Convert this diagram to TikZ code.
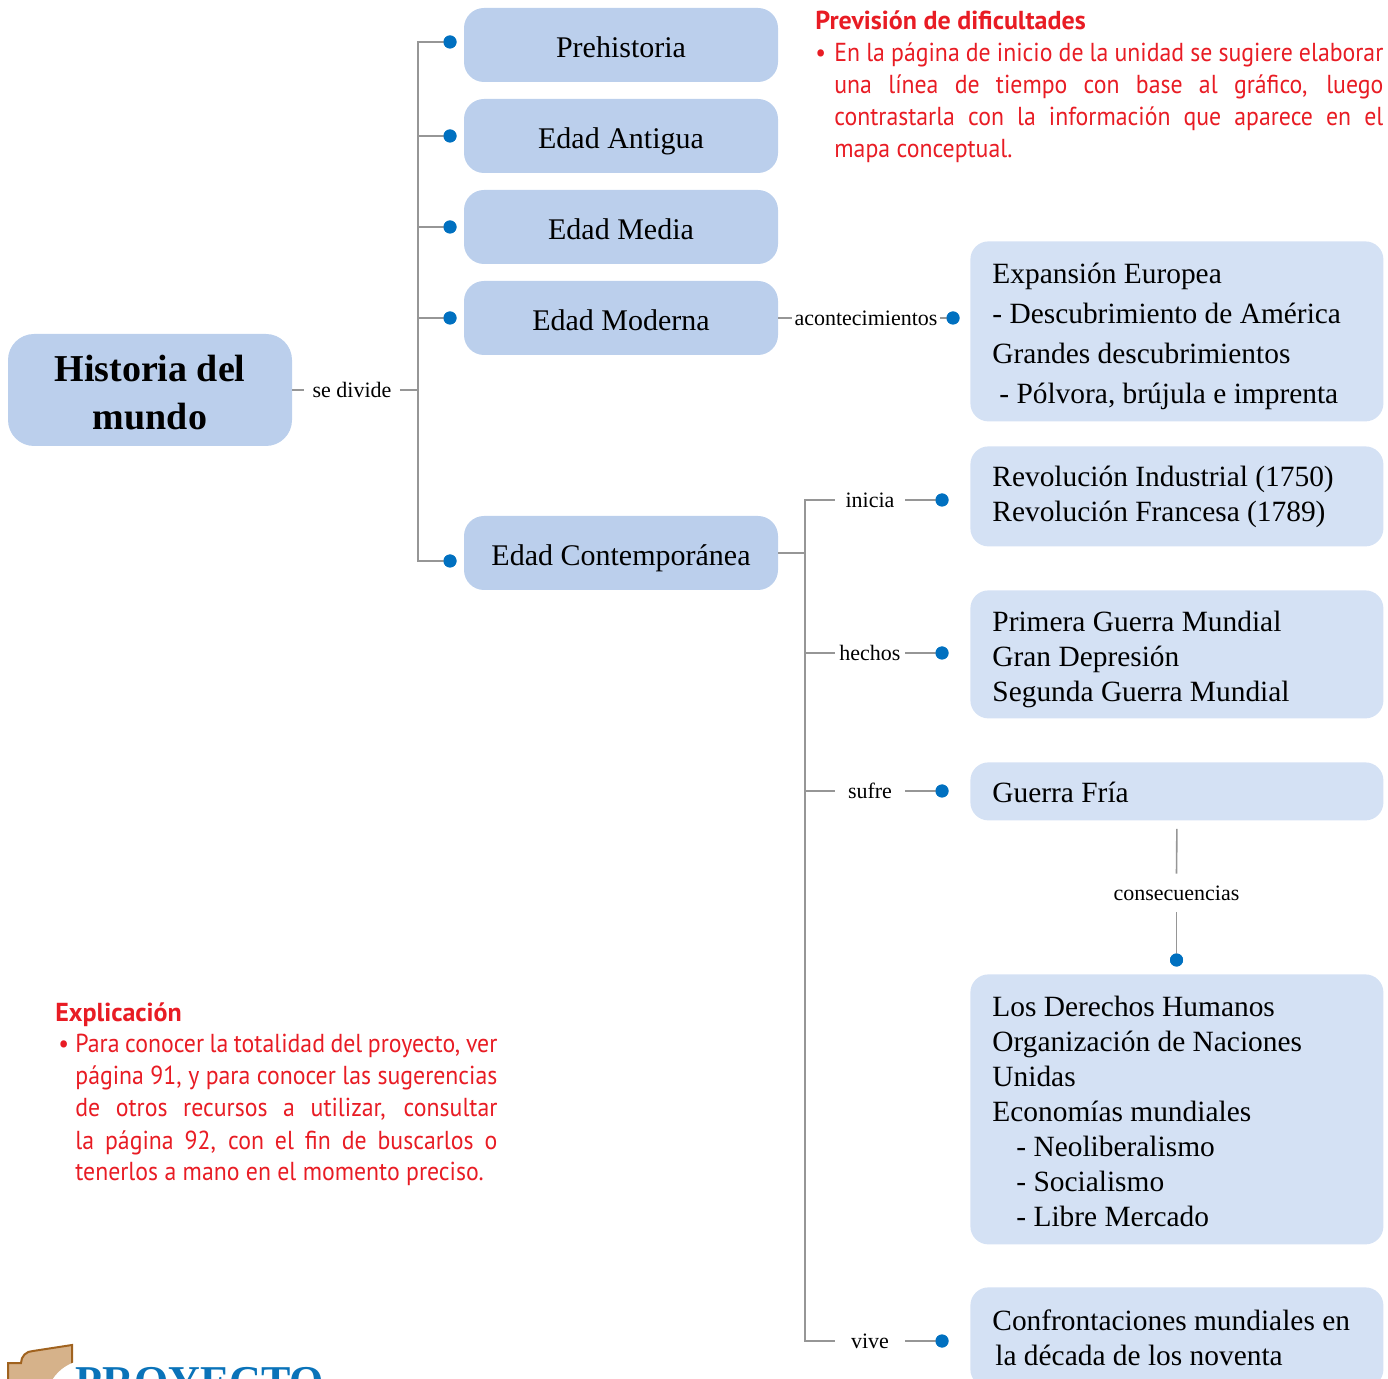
\documentclass[tikz,border=0pt]{standalone}
\usepackage{fontspec}
\setmainfont{Liberation Serif}
\newfontfamily\redfont[FakeStretch=0.915]{PT Sans}
\newfontfamily\redhead[FakeStretch=1.0]{PT Sans}
\definecolor{boxA}{RGB}{187,207,236}
\definecolor{boxB}{RGB}{212,225,244}
\definecolor{dotblue}{RGB}{0,112,192}
\definecolor{linegray}{RGB}{150,150,150}
\definecolor{redtxt}{RGB}{232,28,36}
\definecolor{tanfill}{RGB}{214,178,138}
\definecolor{brownline}{RGB}{160,98,30}
\definecolor{proyblue}{RGB}{10,115,185}
\tikzset{
  leftbox/.style={fill=boxA, rounded corners=10pt, minimum width=157pt, minimum height=37pt, inner sep=0pt, text height=14pt, text depth=1.5pt, font=\fontsize{15}{18}\selectfont},
  rightbox/.style={fill=boxB, rounded corners=9pt, anchor=north west, minimum width=206.5pt, inner sep=0pt},
  righttext/.style={anchor=west, inner sep=0pt, align=left, font=\fontsize{14.7}{17.5}\selectfont},
  dotnode/.style={circle, fill=dotblue, inner sep=0pt, minimum size=6.5pt},
  conn/.style={draw=linegray, line width=0.8pt},
  lbl/.style={font=\fontsize{11}{12}\selectfont, inner sep=0pt},
  lblB/.style={lbl, minimum width=35pt},
  redblock/.style={anchor=base west, inner sep=0pt, text=redtxt}
}
\begin{document}
\begin{tikzpicture}[x=0.5pt,y=-0.5pt]
\useasboundingbox (0,0) rectangle (1388,1379);
\clip (0,0) rectangle (1388,1379);

% ---- left column boxes
\node[leftbox, minimum width=142pt, minimum height=56pt, rounded corners=13pt, align=center, text height=, text depth=, font=\fontsize{19}{24}\selectfont\bfseries] (hist) at (150,390) {};
\node[align=center, inner sep=0pt, font=\fontsize{19}{24}\selectfont\bfseries] (histtext) at (150,393) {Historia del\\mundo};
\node[leftbox] (pre) at (621,45) {Prehistoria};
\node[leftbox] (ant) at (621,136) {Edad Antigua};
\node[leftbox] (med) at (621,227) {Edad Media};
\node[leftbox] (mod) at (621,318) {Edad Moderna};
\node[leftbox] (cont) at (621,553) {Edad Contemporánea};

\node[dotnode] (d1) at (450,42) {};
\node[dotnode] (d2) at (450,136) {};
\node[dotnode] (d3) at (450,227) {};
\node[dotnode] (d4) at (450,318) {};
\node[dotnode] (d6) at (450,561) {};

\node[lbl, inner xsep=4pt] (sediv) at (352,390) {se divide};
\coordinate (tA) at (418,390);
\draw[conn] (hist.east) -- (sediv.west);
\draw[conn] (sediv.east) -- (tA);
\draw[conn] (d1.center) -- (d1.center -| tA) -- (d6.center -| tA) -- (d6.center);
\draw[conn] (d2.center -| tA) -- (d2.center);
\draw[conn] (d3.center -| tA) -- (d3.center);
\draw[conn] (d4.center -| tA) -- (d4.center);
\foreach \d in {d1,d2,d3,d4,d6} \node[dotnode] at (\d) {};

% ---- right boxes
\node[rightbox, minimum height=90pt] (exp) at (970,241) {};
\node[righttext, font=\fontsize{14.7}{20}\selectfont] (expt) at (992,336.5) {Expansión Europea\\- Descubrimiento de América\\Grandes descubrimientos\\\hspace*{3.5pt}- Pólvora, brújula e imprenta};
\node[rightbox, minimum height=50pt] (rev) at (970,446) {};
\node[righttext] (revt) at (992,497) {Revolución Industrial (1750)\\Revolución Francesa (1789)};
\node[rightbox, minimum height=64pt] (pgm) at (970,590) {};
\node[righttext] (pgmt) at (992,659) {Primera Guerra Mundial\\Gran Depresión\\Segunda Guerra Mundial};
\node[rightbox, minimum height=29pt] (gf) at (970,762) {};
\node[righttext] (gft) at (992,792) {Guerra Fría};
\node[rightbox, minimum height=135pt] (der) at (970,974) {};
\node[righttext] (dert) at (992,1111) {Los Derechos Humanos\\Organización de Naciones\\Unidas\\Economías mundiales\\\hspace*{12pt}- Neoliberalismo\\\hspace*{12pt}- Socialismo\\\hspace*{12pt}- Libre Mercado};
\node[rightbox, minimum height=50pt] (conf) at (970,1287) {};
\node[righttext] (conft) at (992,1338) {Confrontaciones mundiales en\\\hspace*{1.5pt}la década de los noventa};

% ---- acontecimientos
\node[lbl, inner xsep=1pt] (acon) at (866,318) {acontecimientos};
\node[dotnode] (dA) at (953,318) {};
\draw[conn] (mod.east) -- (acon.west);
\draw[conn] (acon.east) -- (dA.center);
\node[dotnode] at (dA) {};

% ---- contemporanea branches
\coordinate (tB) at (805,553);
\node[lblB] (ini) at (870,500) {inicia};
\node[lblB] (hec) at (870,653) {hechos};
\node[lblB] (suf) at (870,791) {sufre};
\node[lblB] (viv) at (870,1341) {vive};
\node[dotnode] (dI) at (942,500) {};
\node[dotnode] (dH) at (942,653) {};
\node[dotnode] (dS) at (942,791) {};
\node[dotnode] (dV) at (942,1341) {};
\draw[conn] (cont.east) -- (cont.east -| tB);
\draw[conn] (ini.west) -- (ini.west -| tB) -- (viv.west -| tB) -- (viv.west);
\draw[conn] (hec.west -| tB) -- (hec.west);
\draw[conn] (suf.west -| tB) -- (suf.west);
\draw[conn] (ini.east) -- (dI.center);
\draw[conn] (hec.east) -- (dH.center);
\draw[conn] (suf.east) -- (dS.center);
\draw[conn] (viv.east) -- (dV.center);
\foreach \d in {dI,dH,dS,dV} \node[dotnode] at (\d) {};

% ---- consecuencias
\node[lbl, minimum height=19pt] (cons) at (1176.5,893) {consecuencias};
\node[dotnode] (dC) at (1176.5,960) {};
\draw[conn] ([yshift=-4pt]gf.south) -- (cons.north);
\draw[conn] (cons.south) -- (dC.center);
\node[dotnode] at (dC) {};

% ---- red notes
\node[redblock] (prev) at (815,30) {\begin{minipage}[t]{284pt}\redfont\fontsize{13}{16}\selectfont\setlength{\parindent}{0pt}%
{\redhead\bfseries Previsión de dificultades}\par
\leftskip=9.5pt\hspace*{-9.5pt}\makebox[9.5pt][l]{\textbullet}En la página de inicio de la unidad se sugiere elaborar\linebreak una línea de tiempo con base al gráfico, luego\linebreak contrastarla con la información que aparece en el\linebreak mapa conceptual.\par
\end{minipage}};

\node[redblock] (expl) at (55,1021) {\begin{minipage}[t]{221pt}\redfont\fontsize{13}{16}\selectfont\setlength{\parindent}{0pt}%
{\redhead\bfseries Explicación}\par
\leftskip=10pt\hspace*{-8.5pt}\makebox[8.5pt][l]{\textbullet}Para conocer la totalidad del proyecto, ver\linebreak página 91, y para conocer las sugerencias\linebreak de otros recursos a utilizar, consultar\linebreak la página 92, con el fin de buscarlos o\linebreak tenerlos a mano en el momento preciso.\par
\end{minipage}};

% ---- PROYECTO logo
\draw[fill=tanfill, draw=brownline, line width=1pt] (8,1385) -- (8,1363) -- (21,1363) arc[start angle=180, end angle=90, radius=6pt] -- (72,1345) -- (72,1385) -- cycle;
\fill[white] (88,1402) circle[radius=21pt];
\node[anchor=base west, inner sep=0pt, text=proyblue, font=\fontsize{22}{24}\selectfont\bfseries] (proy) at (75,1396) {PROYECTO};
\end{tikzpicture}
\end{document}
